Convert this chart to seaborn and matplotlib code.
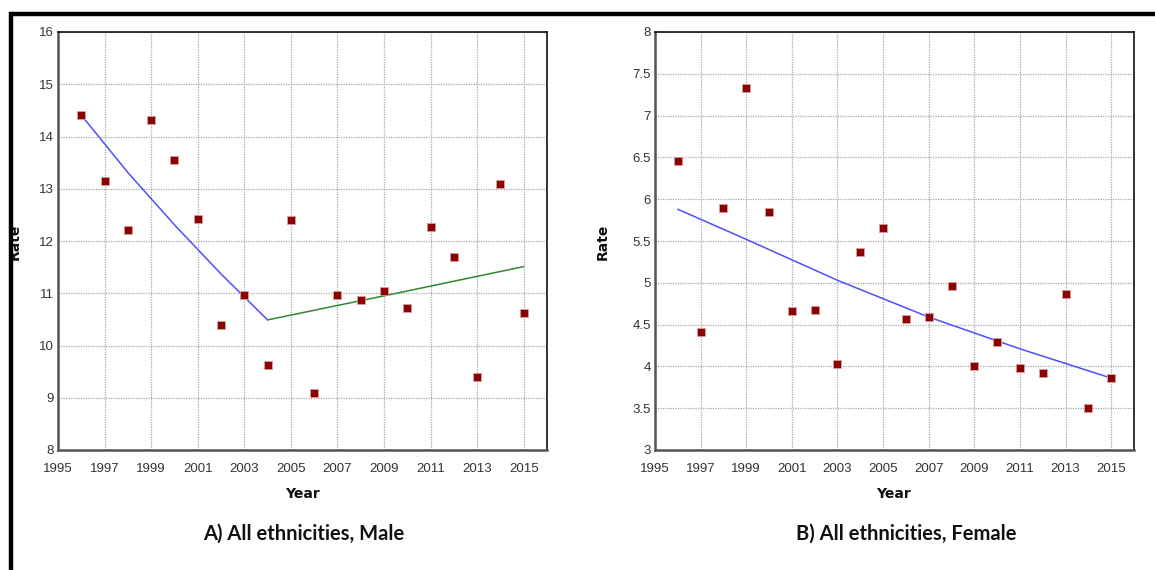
import numpy as np
import pandas as pd
import matplotlib
matplotlib.use("Agg")
import matplotlib.pyplot as plt
import seaborn as sns
from matplotlib.lines import Line2D

# ---------------- data ----------------
years = list(range(1996, 2016))

male_rate = [14.41, 13.15, 12.22, 14.32, 13.55, 12.42, 10.40, 10.97, 9.63, 12.40,
             9.10, 10.97, 10.88, 11.04, 10.72, 12.27, 11.70, 9.39, 13.10, 10.63]
female_rate = [6.46, 4.41, 5.90, 7.33, 5.85, 4.66, 4.68, 4.03, 5.37, 5.66,
               4.57, 4.59, 4.96, 4.01, 4.29, 3.98, 3.92, 4.87, 3.50, 3.86]

# fitted trend segments
male_fit1_years = [1996, 1998, 2000, 2002, 2004]
male_fit1_vals = [14.41, 13.31, 12.31, 11.37, 10.49]
male_fit2_years = [2004, 2009, 2015]
male_fit2_vals = [10.49, 10.95, 11.51]
female_fit_years = [1996, 1999, 2003, 2007, 2011, 2015]
female_fit_vals = [5.88, 5.52, 5.03, 4.59, 4.21, 3.86]

xticks = list(range(1995, 2016, 2))
male_yticks = list(range(8, 17))
female_yticks = [3, 3.5, 4, 4.5, 5, 5.5, 6, 6.5, 7, 7.5, 8]
female_yticklabels = ["3", "3.5", "4", "4.5", "5", "5.5", "6", "6.5", "7", "7.5", "8"]

titles = ["A) All ethnicities, Male", "B) All ethnicities, Female"]

# ---------------- style ----------------
sns.set_theme(style="white")
plt.rcParams["font.family"] = ["Liberation Sans", "DejaVu Sans"]

W, H = 1155, 570
fig = plt.figure(figsize=(W / 100, H / 100), dpi=100)
fig.patch.set_facecolor("white")

def px_axes(l, t, r, b):
    return fig.add_axes([l / W, 1 - b / H, (r - l) / W, (b - t) / H])

ax1 = px_axes(58, 32, 547, 450)
ax2 = px_axes(655, 32, 1134, 450)

MARK = "#8b0000"
BLUE = "#4f4fff"
GREEN = "#2f8a2f"

df_m = pd.DataFrame({"Year": years, "Rate": male_rate})
df_f = pd.DataFrame({"Year": years, "Rate": female_rate})

def style_axes(ax, yticks, ylim, yticklabels=None):
    ax.set_xlim(1995, 2016)
    ax.set_ylim(*ylim)
    ax.set_xticks(xticks)
    ax.set_yticks(yticks)
    if yticklabels is not None:
        ax.set_yticklabels(yticklabels)
    ax.grid(True, color="#a8a8a8", linestyle=(0, (1, 1)), linewidth=0.9)
    ax.set_axisbelow(True)
    ax.tick_params(axis="both", length=0, labelsize=9.5, colors="#333333")
    ax.tick_params(axis="x", pad=9)
    ax.tick_params(axis="y", pad=3)
    for s in ["top", "right"]:
        ax.spines[s].set_color("#111111")
        ax.spines[s].set_linewidth(1.2)
    for s in ["left", "bottom"]:
        ax.spines[s].set_color("#555555")
        ax.spines[s].set_linewidth(1.8)
    ax.set_xlabel("")
    ax.set_ylabel("")

# male
sns.lineplot(x=male_fit1_years, y=male_fit1_vals, ax=ax1, color=BLUE, linewidth=1.1)
sns.lineplot(x=male_fit2_years, y=male_fit2_vals, ax=ax1, color=GREEN, linewidth=1.1)
sns.scatterplot(data=df_m, x="Year", y="Rate", ax=ax1, marker="s", s=32,
                color=MARK, edgecolor="#d8a0a0", linewidth=0.6, zorder=5)
style_axes(ax1, male_yticks, (8, 16))

# female
sns.lineplot(x=female_fit_years, y=female_fit_vals, ax=ax2, color=BLUE, linewidth=1.1)
sns.scatterplot(data=df_f, x="Year", y="Rate", ax=ax2, marker="s", s=32,
                color=MARK, edgecolor="#d8a0a0", linewidth=0.6, zorder=5)
style_axes(ax2, female_yticks, (3, 8), female_yticklabels)

# axis labels and subtitles
lab_kw = dict(fontsize=10, fontweight="bold", family=["DejaVu Sans"], color="#111111")
fig.text(302 / W, 1 - 494 / H, "Year", ha="center", va="center", **lab_kw)
fig.text(893 / W, 1 - 494 / H, "Year", ha="center", va="center", **lab_kw)
fig.text(15 / W, 1 - 242 / H, "Rate", ha="center", va="center", rotation=90, **lab_kw)
fig.text(603 / W, 1 - 242 / H, "Rate", ha="center", va="center", rotation=90, **lab_kw)

sub_kw = dict(fontsize=14.5, fontweight="bold", family=["Lato", "DejaVu Sans"], color="#111111")
fig.text(304 / W, 1 - 534 / H, titles[0], ha="center", va="center", **sub_kw)
fig.text(906 / W, 1 - 534 / H, titles[1], ha="center", va="center", **sub_kw)

# black frame lines
fig.add_artist(Line2D([9 / W, 1.0], [1 - 13.5 / H, 1 - 13.5 / H], color="black",
                      linewidth=3.2, solid_capstyle="butt",
                      transform=fig.transFigure, zorder=10))
fig.add_artist(Line2D([11 / W, 11 / W], [1 - 12 / H, 0.0], color="black",
                      linewidth=3.2, solid_capstyle="butt",
                      transform=fig.transFigure, zorder=10))

fig.savefig("out.png", dpi=100, facecolor="white")
